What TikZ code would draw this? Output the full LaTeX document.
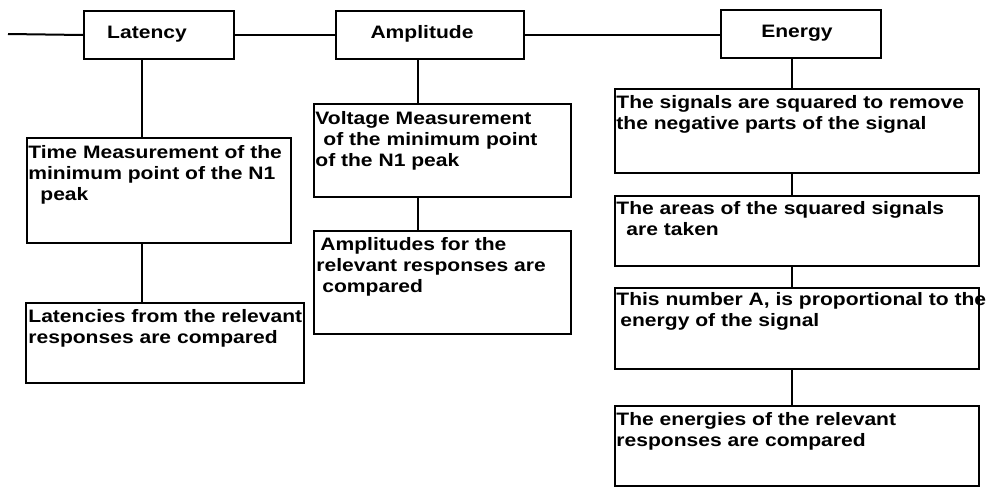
\documentclass[tikz,border=0pt]{standalone}
\usepackage{fontspec}
\setmainfont{Liberation Sans}[FakeStretch=1.17]
\begin{document}
\begin{tikzpicture}[x=0.5pt,y=-0.5pt,
  box/.style={draw, line width=1pt, inner sep=0pt, anchor=north west},
  ttl/.style={inner sep=0pt, font=\fontsize{9}{10.5}\selectfont\bfseries},
  txt/.style={anchor=north west, inner sep=0pt, align=left, font=\fontsize{9}{10.5}\selectfont\bfseries},
  conn/.style={line width=1pt}]
\useasboundingbox (0,0) rectangle (990,487);
% top row boxes
\node[box, minimum width=75pt, minimum height=24pt] (lat) at (83,10) {};
\node[box, minimum width=94pt, minimum height=24pt] (amp) at (335,10) {};
\node[box, minimum width=80pt, minimum height=24pt] (ene) at (720,9) {};
\node[ttl] (latt) at (147,34) {Latency};
\node[ttl] (ampt) at (422,34) {Amplitude};
\node[ttl] (enet) at (797,33) {Energy};
% lower boxes
\node[box, minimum width=132pt, minimum height=52.5pt] (tm) at (26,137) {};
\node[box, minimum width=139pt, minimum height=40pt] (lat2) at (25,302) {};
\node[box, minimum width=128.5pt, minimum height=46.5pt] (volt) at (313,103) {};
\node[box, minimum width=128.5pt, minimum height=51.5pt] (amp2) at (313,230) {};
\node[box, minimum width=182pt, minimum height=42pt] (e1) at (614,88) {};
\node[box, minimum width=182pt, minimum height=35pt] (e2) at (614,195) {};
\node[box, minimum width=182pt, minimum height=40.5pt] (e3) at (614,287) {};
\node[box, minimum width=182pt, minimum height=40pt] (e4) at (614,405) {};
% texts
\node[txt] (tmt) at (28,145) {Time Measurement of the\\minimum point of the N1\\\hspace*{6pt}peak};
\node[txt] (lat2t) at (28,309) {Latencies from the relevant\\responses are compared};
\node[txt] (voltt) at (315,111) {Voltage Measurement\\\hspace*{4pt}of the minimum point\\of the N1 peak};
\node[txt] (amp2t) at (316,237) {\hspace*{2pt}Amplitudes for the\\relevant responses are\\\hspace*{3pt}compared};
\node[txt] (e1t) at (616,95) {The signals are squared to remove\\the negative parts of the signal};
\node[txt] (e2t) at (616,201) {The areas of the squared signals\\\hspace*{5pt}are taken};
\node[txt] (e3t) at (616,292) {This number A, is proportional to the\\\hspace*{2pt}energy of the signal};
\node[txt] (e4t) at (616,412) {The energies of the relevant\\responses are compared};
% connector columns
\coordinate (start) at (8,34);
\coordinate (lx) at (142,0);
\coordinate (ax) at (418,0);
\coordinate (ex) at (792,0);
\draw[conn] (start) -- (lat.west);
\draw[conn] (lat.east) -- (amp.west);
\draw[conn] (amp.east) -- (amp.east -| ene.west);
\draw[conn] (lat.south -| lx) -- (tm.north -| lx);
\draw[conn] (tm.south -| lx) -- (lat2.north -| lx);
\draw[conn] (amp.south -| ax) -- (volt.north -| ax);
\draw[conn] (volt.south -| ax) -- (amp2.north -| ax);
\draw[conn] (ene.south -| ex) -- (e1.north -| ex);
\draw[conn] (e1.south -| ex) -- (e2.north -| ex);
\draw[conn] (e2.south -| ex) -- (e3.north -| ex);
\draw[conn] (e3.south -| ex) -- (e4.north -| ex);
\end{tikzpicture}
\end{document}
